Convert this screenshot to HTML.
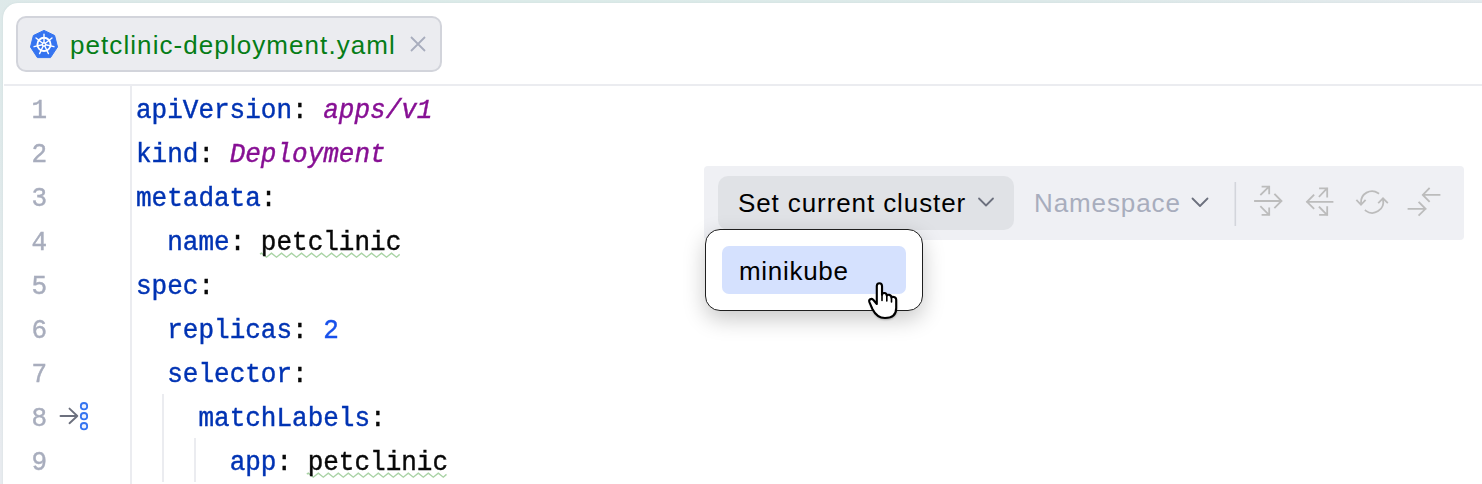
<!DOCTYPE html>
<html><head><meta charset="utf-8">
<style>
html,body{margin:0;padding:0;}
body{width:1482px;height:484px;overflow:hidden;position:relative;
  background:radial-gradient(ellipse 1100px 520px at 550px 0px,#dcebe9 0%,#dde9e9 45%,#e8ebef 100%);}
#win{position:absolute;left:3px;top:3px;box-shadow:0 0 1.5px rgba(180,200,200,0.6);width:1500px;height:500px;background:#fff;border-top-left-radius:15px;}
.abs{position:absolute;}
#tab{position:absolute;left:16px;top:16px;width:422px;height:52px;background:#ebecf0;border:2px solid #d2d4db;border-radius:10px;}
#tabtxt{position:absolute;left:70px;top:27px;font-family:"Liberation Sans",sans-serif;font-size:26px;letter-spacing:1.07px;color:#067d17;white-space:nowrap;line-height:36px;}
#sep{position:absolute;left:4px;top:84px;width:1480px;height:2px;background:#ebecf0;}
#gut{position:absolute;left:130px;top:86px;width:2px;height:400px;background:#ebecf0;}
.ln{position:absolute;left:0;width:47px;text-align:right;font-family:"Liberation Mono",monospace;font-size:26px;color:#a8adbd;line-height:44px;height:44px;transform:scaleY(1.04);transform-origin:0 29px;-webkit-text-stroke:0.4px currentColor;}
.cl{position:absolute;left:136px;font-family:"Liberation Mono",monospace;font-size:26px;line-height:44px;height:44px;white-space:pre;color:#080808;transform:scaleY(1.06);transform-origin:0 29px;-webkit-text-stroke:0.4px currentColor;}
.k{color:#0033b3;}
.v{color:#871094;font-style:italic;}
.n{color:#1750eb;}
.t{}
.guide{position:absolute;width:2px;background:#ebecf0;}
#tb{position:absolute;left:704px;top:166px;width:760px;height:74px;background:#eff0f4;border-radius:4px;}
#btn{position:absolute;left:718px;top:176px;width:296px;height:54px;background:#e0e2e6;border-radius:10px;}
.ui{position:absolute;font-family:"Liberation Sans",sans-serif;font-size:26px;white-space:nowrap;line-height:36px;letter-spacing:0.9px;}
#popup{position:absolute;left:705px;top:229px;width:216px;height:80px;background:#fff;border:1.2px solid #1f1f1f;border-radius:15px;box-shadow:0 8px 22px rgba(0,0,0,0.22);}
#item{position:absolute;left:722px;top:246px;width:184px;height:48px;background:#d5e1fe;border-radius:7px;}
</style></head><body>
<div id="win"></div>
<div id="tab"></div>
<svg class="abs" style="left:28px;top:28px" width="32" height="32" viewBox="0 0 32 32">
  <polygon points="16,2.4 26.6,7.5 29.5,19 22.5,29.6 9.4,29.6 2.5,19 5.4,7.5" fill="#3574f0" stroke="#3574f0" stroke-width="1" stroke-linejoin="round"/>
  <circle cx="16" cy="16.4" r="6.6" fill="none" stroke="#fff" stroke-width="1.9"/>
  <circle cx="16" cy="16.4" r="1.6" fill="none" stroke="#fff" stroke-width="1.4"/>
  <path d="M16.00 14.60L16.00 6.20M17.41 15.28L23.97 10.04M17.75 16.80L25.94 18.67M16.78 18.02L20.43 25.59M15.22 18.02L11.57 25.59M14.25 16.80L6.06 18.67M14.59 15.28L8.03 10.04" stroke="#fff" stroke-width="1.4" stroke-linecap="round"/>
</svg>
<div id="tabtxt">petclinic-deployment.yaml</div>
<svg class="abs" style="left:408px;top:35px" width="20" height="20" viewBox="0 0 20 20"><path d="M3 2L17 16M17 2L3 16" stroke="#a8adbd" stroke-width="1.8" fill="none"/></svg>
<div id="sep"></div>
<div id="gut"></div>

<div class="ln" style="top:89px">1</div>
<div class="ln" style="top:133px">2</div>
<div class="ln" style="top:177px">3</div>
<div class="ln" style="top:221px">4</div>
<div class="ln" style="top:265px">5</div>
<div class="ln" style="top:309px">6</div>
<div class="ln" style="top:353px">7</div>
<div class="ln" style="top:397px">8</div>
<div class="ln" style="top:441px">9</div>

<svg class="abs" style="left:0;top:0" width="1482" height="484"><path d="M260.0 254.2 L261.5 253.2 L266.5 257.2 L271.5 253.2 L276.5 257.2 L281.5 253.2 L286.5 257.2 L291.5 253.2 L296.5 257.2 L301.5 253.2 L306.5 257.2 L311.5 253.2 L316.5 257.2 L321.5 253.2 L326.5 257.2 L331.5 253.2 L336.5 257.2 L341.5 253.2 L346.5 257.2 L351.5 253.2 L356.5 257.2 L361.5 253.2 L366.5 257.2 L371.5 253.2 L376.5 257.2 L381.5 253.2 L386.5 257.2 L391.5 253.2 L396.5 257.2 L399.7 254.4 M306.8 474.2 L308.3 473.2 L313.3 477.2 L318.3 473.2 L323.3 477.2 L328.3 473.2 L333.3 477.2 L338.3 473.2 L343.3 477.2 L348.3 473.2 L353.3 477.2 L358.3 473.2 L363.3 477.2 L368.3 473.2 L373.3 477.2 L378.3 473.2 L383.3 477.2 L388.3 473.2 L393.3 477.2 L398.3 473.2 L403.3 477.2 L408.3 473.2 L413.3 477.2 L418.3 473.2 L423.3 477.2 L428.3 473.2 L433.3 477.2 L438.3 473.2 L443.3 477.2 L446.5 474.4" fill="none" stroke="#a9d3a5" stroke-width="1.4" stroke-linejoin="miter"/></svg>
<div class="cl" style="top:89px"><span class="k">apiVersion</span>: <span class="v">apps/v1</span></div>
<div class="cl" style="top:133px"><span class="k">kind</span>: <span class="v">Deployment</span></div>
<div class="cl" style="top:177px"><span class="k">metadata</span>:</div>
<div class="cl" style="top:221px">  <span class="k">name</span>: <span class="t">petclinic</span></div>
<div class="cl" style="top:265px"><span class="k">spec</span>:</div>
<div class="cl" style="top:309px">  <span class="k">replicas</span>: <span class="n">2</span></div>
<div class="cl" style="top:353px">  <span class="k">selector</span>:</div>
<div class="cl" style="top:397px">    <span class="k">matchLabels</span>:</div>
<div class="cl" style="top:441px">      <span class="k">app</span>: <span class="t">petclinic</span></div>


<div class="guide" style="left:162px;top:394px;height:88px"></div>
<div class="guide" style="left:194px;top:438px;height:44px"></div>

<div id="tb"></div>
<div id="btn"></div>
<div class="ui" style="left:738px;top:185px;color:#000">Set current cluster</div>
<div class="ui" style="left:1034px;top:185px;color:#a8adbd">Namespace</div>
<div id="popup"></div>
<div id="item"></div>
<div class="ui" style="left:739px;top:253px;color:#000;letter-spacing:0.7px">minikube</div>

<svg class="abs" style="left:0;top:0" width="1482" height="484" viewBox="0 0 1482 484">
  <g fill="none" stroke="#6c707e" stroke-width="1.8" stroke-linecap="round" stroke-linejoin="round">
    <path d="M979 198.5L986 205.5L993 198.5"/>
    <path d="M1192.5 198.5L1200 206L1207.5 198.5"/>
  </g>
  <rect x="1234.5" y="182" width="1.6" height="44" fill="#d3d5db"/>
  <g fill="none" stroke="#bcbcbc" stroke-width="1.8" stroke-linecap="square" stroke-linejoin="miter">
    <path d="M1255 201H1281M1275 194.5L1281.5 201L1275 207.5"/>
    <path d="M1261 194.5L1269 186.7M1262.5 186.7H1269.2V193.3"/>
    <path d="M1261 206.8L1269 214.8M1262.5 214.8H1269.2V208.3"/>

    <path d="M1307 201.8H1332.5M1313.5 195.3L1307 201.8L1313.5 208.3"/>
    <path d="M1319.5 196.3L1327 188.4M1320 188.4H1327.2V196.5"/>
    <path d="M1319.5 207.2L1327 214.9M1320 214.9H1327.2V207.2"/>

    <path d="M1378.3 193.2A11 11 0 0 0 1361 203"/>
    <path d="M1357 200.5L1361 204.8L1365 200.5"/>
    <path d="M1365.6 210.6A11 11 0 0 0 1383 199.5"/>
    <path d="M1378.8 202.6L1383 198.3L1387.2 202.6"/>

    <path d="M1423 194.9H1439.5M1429 188.6L1422.8 194.9L1429 201.2"/>
    <path d="M1408.5 208.8H1425.5M1419.2 202.5L1425.5 208.8L1419.2 215.1"/>
  </g>
  <g fill="none" stroke-linecap="round" stroke-linejoin="round">
    <path d="M60.5 416H77.3M69.5 408.6L77.3 416L69.5 423.2" stroke="#6c707e" stroke-width="1.9"/>
    <circle cx="84" cy="406.2" r="3.2" stroke="#3574f0" stroke-width="1.8" fill="#eef3ff"/>
    <circle cx="84" cy="416.2" r="3.2" stroke="#3574f0" stroke-width="1.8" fill="#eef3ff"/>
    <circle cx="84" cy="426.2" r="3.2" stroke="#3574f0" stroke-width="1.8" fill="#eef3ff"/>
  </g>
</svg>
<svg class="abs" style="left:862px;top:278px" width="44" height="48" viewBox="0 0 44 48">
  <defs><filter id="sh" x="-30%" y="-30%" width="160%" height="160%"><feGaussianBlur stdDeviation="1.2"/></filter></defs>
  <path d="M14.8 26L14.8 8C14.8 4.3 20 4.3 20 8L20 16.8C20.3 14.3 24.6 14.3 24.8 17.6C25 16.3 29.3 16.3 29.5 19.6C29.8 18.4 34.2 18.4 34.2 21.8L34.2 30C34.2 36.8 30 40 23 40C16.5 40 13.3 36.8 10.4 31L7.4 24.2C6.4 21.4 9.3 20 11.2 21.8L14.8 26Z" fill="rgba(0,0,0,0.35)" transform="translate(0.5,1.5)" filter="url(#sh)"/>
  <path d="M14.8 26L14.8 8C14.8 4.3 20 4.3 20 8L20 16.8C20.3 14.3 24.6 14.3 24.8 17.6C25 16.3 29.3 16.3 29.5 19.6C29.8 18.4 34.2 18.4 34.2 21.8L34.2 30C34.2 36.8 30 40 23 40C16.5 40 13.3 36.8 10.4 31L7.4 24.2C6.4 21.4 9.3 20 11.2 21.8L14.8 26Z" fill="#fff" stroke="#000" stroke-width="2.1" stroke-linejoin="round"/>
  <path d="M20 17V22.5M24.8 17.6V23M29.5 19.6V24" stroke="#000" stroke-width="1.6" stroke-linecap="round"/>
</svg>
</body></html>
